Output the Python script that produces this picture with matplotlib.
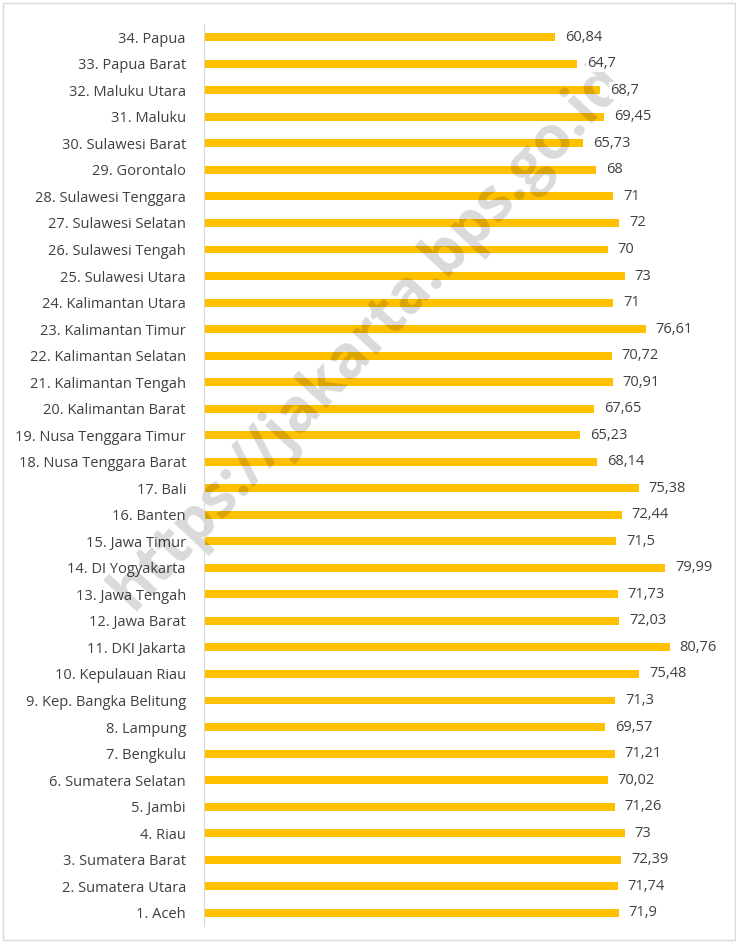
import numpy as np
import matplotlib.pyplot as plt
import matplotlib.patches as mpatches

# provinces, bottom to top as they appear
provinces = [
	'1. Aceh', '2. Sumatera Utara', '3. Sumatera Barat', '4. Riau', '5. Jambi',
	'6. Sumatera Selatan', '7. Bengkulu', '8. Lampung', '9. Kep. Bangka Belitung',
	'10. Kepulauan Riau', '11. DKI Jakarta', '12. Jawa Barat', '13. Jawa Tengah',
	'14. DI Yogyakarta', '15. Jawa Timur', '16. Banten', '17. Bali',
	'18. Nusa Tenggara Barat', '19. Nusa Tenggara Timur', '20. Kalimantan Barat',
	'21. Kalimantan Tengah', '22. Kalimantan Selatan', '23. Kalimantan Timur',
	'24. Kalimantan Utara', '25. Sulawesi Utara', '26. Sulawesi Tengah',
	'27. Sulawesi Selatan', '28. Sulawesi Tenggara', '29. Gorontalo',
	'30. Sulawesi Barat', '31. Maluku', '32. Maluku Utara', '33. Papua Barat',
	'34. Papua',
]
values = [
	71.9, 71.74, 72.39, 73, 71.26, 70.02, 71.21, 69.57, 71.3, 75.48,
	80.76, 72.03, 71.73, 79.99, 71.5, 72.44, 75.38, 68.14, 65.23, 67.65,
	70.91, 70.72, 76.61, 71, 73, 70, 72, 71, 68, 65.73,
	69.45, 68.7, 64.7, 60.84,
]
value_labels = [
	'71,9', '71,74', '72,39', '73', '71,26', '70,02', '71,21', '69,57', '71,3', '75,48',
	'80,76', '72,03', '71,73', '79,99', '71,5', '72,44', '75,38', '68,14', '65,23', '67,65',
	'70,91', '70,72', '76,61', '71', '73', '70', '72', '71', '68', '65,73',
	'69,45', '68,7', '64,7', '60,84',
]

W, H = 736, 943
fig = plt.figure(figsize=(W/100, H/100), dpi=100)
plt.rcParams['font.family'] = ['Open Sans', 'DejaVu Sans']

# outer frame
fig.patches.append(mpatches.Rectangle((3/W, 3/H), (W-4)/W, (H-6)/H, transform=fig.transFigure,
	fill=False, edgecolor='#d9d9d9', lw=1))

ax = fig.add_axes([204/W, 1-926/H, (723-204)/W, (926-24)/H])
ax.patch.set_alpha(0)
y = np.arange(len(provinces))
ax.barh(y, values, height=0.3, color='#FFC000', zorder=2)
for yi, v, lab in zip(y, values, value_labels):
	ax.text(v + 1.7, yi, lab, va='center', ha='left', fontsize=10.5, color='#404040', zorder=3,
		bbox=dict(facecolor='white', edgecolor='none', pad=0.5))

ax.set_ylim(-0.5, len(provinces) - 0.5)
ax.set_xlim(0, 90)
ax.set_yticks(y)
ax.set_yticklabels(provinces, fontsize=10.5, color='#404040')
for t in ax.get_yticklabels():
	t.set_bbox(dict(facecolor='white', edgecolor='none', pad=0.5))
ax.tick_params(axis='y', length=0, pad=13)
ax.set_xticks([])
for s in ['top', 'right', 'bottom']:
	ax.spines[s].set_visible(False)
ax.spines['left'].set_color('#d9d9d9')

# watermark, semi transparent over the bars, under the labels
ax.text(368/W, 1-336/H, 'https://jakarta.bps.go.id', rotation=47, ha='center', va='center',
	transform=fig.transFigure, fontsize=43, fontweight='bold', color='black', alpha=0.15,
	zorder=2.2)

fig.savefig('out.png', dpi=100)
